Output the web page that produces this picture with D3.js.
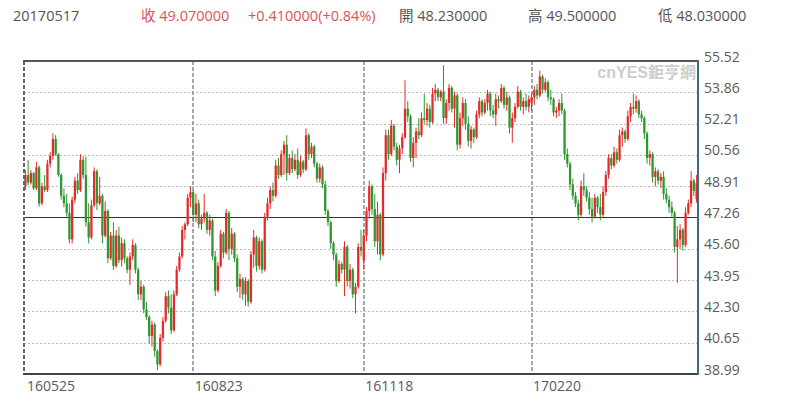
<!DOCTYPE html>
<html><head><meta charset="utf-8">
<script src="https://cdn.jsdelivr.net/npm/d3@7"></script>
<style>
body{margin:0;background:#fff;}
svg{display:block;font-family:"Open Sans","Noto Sans CJK TC",sans-serif;}
</style>
</head><body>
<svg id="c" width="800" height="406"></svg>
<script>
// ---- data ----
const openP = [
48.9,49.5,49.1,49.6,48.8,49.9,48.0,48.9,48.7,50.1,
50.5,51.4,50.6,49.5,48.4,48.0,47.5,46.1,48.2,49.2,
48.7,50.3,49.5,47.0,46.2,47.9,49.7,48.0,48.4,46.3,
47.6,45.1,46.3,44.7,46.3,45.0,45.9,45.1,44.5,45.2,
45.8,44.5,43.2,43.6,42.4,42.0,41.0,41.6,40.2,39.5,
40.9,41.8,43.1,42.5,41.3,43.2,44.5,45.2,46.6,46.9,
48.3,48.6,47.4,48.0,46.9,47.2,47.5,46.6,47.1,45.2,
43.4,44.7,46.4,45.4,47.5,45.6,46.4,45.1,43.6,44.0,
43.2,43.9,42.8,45.3,46.2,44.7,46.0,44.5,47.3,48.0,
48.7,48.4,50.0,49.5,50.6,51.1,49.6,50.4,49.8,50.3,
49.5,50.2,49.8,51.6,50.6,51.0,50.1,49.3,49.9,49.0,
47.6,47.0,45.9,45.3,43.9,44.8,44.5,45.7,43.9,44.5,
43.2,43.6,45.7,45.0,46.3,47.6,48.9,47.7,46.0,47.4,
45.3,49.6,51.6,50.6,52.1,51.0,50.3,50.9,51.5,53.0,
52.6,50.4,51.2,51.8,51.6,52.5,52.4,53.0,52.3,53.8,
54.0,53.6,53.9,52.5,53.3,54.1,53.0,53.7,51.1,52.5,
53.3,52.2,51.3,51.9,51.5,52.7,53.4,52.8,53.3,53.8,
52.9,52.7,53.5,53.4,54.1,53.2,53.6,52.0,52.5,53.1,
53.9,53.1,53.4,53.1,53.3,53.6,54.0,53.7,54.7,54.0,
54.4,53.6,53.5,52.8,52.9,53.3,52.9,50.6,50.1,49.0,
48.4,48.0,47.4,48.9,48.7,48.3,47.7,47.3,48.3,47.8,
47.4,48.6,49.5,50.4,50.0,50.7,50.3,51.6,51.8,51.4,
52.6,53.1,53.0,53.4,52.7,52.5,51.7,50.4,50.6,49.4,
49.7,49.2,49.4,48.5,48.2,47.8,47.5,45.7,46.1,46.6,
45.8,47.5,48.0,49.2,48.23];
const highP = [
49.76,50.29,49.76,49.65,50.2,50.0,49.1,49.5,50.3,50.7,
51.7,51.61,50.65,49.6,48.8,48.5,48.0,48.36,49.4,49.6,
50.6,50.5,50.47,48.0,48.2,49.9,49.8,49.4,48.5,48.1,
47.7,46.5,47.0,46.6,46.77,46.2,46.1,45.2,45.4,46.1,
45.9,44.6,43.9,43.7,42.8,42.1,41.8,41.7,40.3,41.1,
42.0,43.3,43.4,43.2,43.4,44.7,45.4,46.8,47.0,48.5,
48.9,48.7,48.5,48.2,47.4,48.5,47.6,47.4,47.2,45.5,
44.9,46.6,46.5,47.7,47.6,46.7,46.5,45.3,44.3,44.1,
44.1,44.0,45.5,46.6,46.3,46.2,46.1,47.5,48.3,48.9,
49.1,50.3,50.4,50.8,51.3,51.6,50.6,50.8,50.6,50.9,
50.5,50.3,51.96,51.7,51.2,51.1,50.2,50.1,50.0,49.2,
47.7,47.1,46.0,45.4,45.0,44.9,46.0,45.8,44.8,44.6,
43.8,45.9,46.6,46.6,47.8,49.2,49.0,48.5,48.1,47.5,
49.9,51.9,51.9,52.4,52.2,51.2,51.1,51.7,54.5,53.4,
52.7,51.5,52.0,52.5,52.8,53.8,53.3,53.2,54.1,54.3,
54.1,54.0,55.3,53.5,54.3,54.2,53.9,53.8,52.8,53.6,
53.5,52.6,52.1,52.0,52.9,53.6,53.5,53.5,54.0,53.9,
53.2,53.8,53.7,54.3,54.2,53.9,53.7,52.8,53.3,54.2,
54.0,53.6,53.8,53.7,53.8,54.2,54.3,55.0,54.8,54.6,
54.5,54.0,53.6,53.1,53.5,53.8,53.0,50.9,50.2,49.3,
48.6,48.2,49.2,49.6,48.9,48.6,48.3,48.5,48.4,48.5,
48.9,49.7,50.6,50.6,51.0,50.9,51.9,52.0,51.9,52.9,
53.3,53.8,53.7,53.5,52.9,52.6,51.8,50.8,50.7,49.9,
49.8,49.6,49.7,48.8,48.4,48.1,47.6,46.8,46.9,46.7,
47.8,48.2,49.7,49.3,49.5];
const lowP = [
48.71,48.97,49.0,48.71,48.7,47.83,47.9,48.6,48.6,49.9,
50.3,50.5,49.4,48.2,47.8,47.3,45.89,45.89,48.0,48.5,
48.6,49.3,46.77,45.89,46.1,47.8,47.65,47.9,45.9,46.2,
44.84,45.0,44.49,44.6,44.84,44.66,44.84,44.31,43.7,45.0,
44.3,42.9,42.9,42.2,41.85,40.6,40.44,39.9,39.2,39.4,
40.7,41.7,42.2,41.1,41.2,43.1,44.4,45.1,46.1,46.8,
47.8,47.0,47.0,46.7,46.6,47.0,46.4,46.3,45.0,43.1,
43.3,44.6,45.1,45.3,45.0,45.3,44.9,43.3,43.0,42.9,
42.6,42.55,42.7,44.6,44.4,44.5,44.3,44.4,47.1,47.7,
48.1,48.3,49.3,49.4,49.5,49.2,49.5,49.6,49.7,49.3,
49.4,49.6,49.7,50.3,50.4,49.9,49.1,49.1,48.8,47.4,
46.8,45.6,45.0,43.6,43.8,44.3,43.1,43.6,43.5,43.0,
42.2,43.5,45.2,44.5,46.0,47.2,47.4,45.7,45.3,45.0,
45.2,49.2,50.3,50.5,50.8,50.0,49.6,50.6,51.4,52.3,
50.2,49.9,50.4,51.4,51.5,52.2,52.1,52.0,52.2,53.4,
53.4,53.4,52.2,52.2,52.9,52.8,52.0,50.8,50.9,52.1,
51.9,51.0,50.9,51.2,51.4,52.5,52.6,52.7,52.9,52.6,
52.5,52.1,53.0,53.3,53.0,52.9,51.7,51.2,52.3,53.0,
52.9,52.7,52.9,52.8,52.9,53.2,53.5,53.6,53.8,53.9,
53.4,53.2,52.6,52.5,52.6,52.7,50.3,49.9,48.7,48.2,
47.8,47.1,47.3,48.4,48.1,47.4,47.0,47.2,47.5,47.1,
47.3,48.4,49.3,49.8,49.9,50.1,50.2,51.0,51.2,51.3,
52.3,52.7,52.8,52.5,52.3,51.4,50.1,50.0,49.1,48.9,
49.0,48.8,48.2,48.0,47.5,47.3,45.4,43.8,45.6,45.5,
45.7,47.4,47.8,48.4,48.03];
const closeP = [
49.5,49.1,49.6,48.8,49.9,48.0,48.9,48.7,50.1,50.5,
51.4,50.6,49.5,48.4,48.0,47.5,46.1,48.2,49.2,48.7,
50.3,49.5,47.0,46.2,47.9,49.7,48.0,48.4,46.3,47.6,
45.1,46.3,44.7,46.3,45.0,45.9,45.1,44.5,45.2,45.8,
44.5,43.2,43.6,42.4,42.0,41.0,41.6,40.2,39.5,40.9,
41.8,43.1,42.5,41.3,43.2,44.5,45.2,46.6,46.9,48.3,
48.6,47.4,48.0,46.9,47.2,47.5,46.6,47.1,45.2,43.4,
44.7,46.4,45.4,47.5,45.6,46.4,45.1,43.6,44.0,43.2,
43.9,42.8,45.3,46.2,44.7,46.0,44.5,47.3,48.0,48.7,
48.4,50.0,49.5,50.6,51.1,49.6,50.4,49.8,50.3,49.5,
50.2,49.8,51.6,50.6,51.0,50.1,49.3,49.9,49.0,47.6,
47.0,45.9,45.3,43.9,44.8,44.5,45.7,43.9,44.5,43.2,
43.6,45.7,45.5,46.3,47.6,48.9,47.7,46.0,47.4,45.3,
49.6,51.6,50.6,52.1,51.0,50.3,50.9,51.5,53.0,52.6,
50.4,51.2,51.8,51.6,52.5,52.4,53.0,52.3,53.8,54.0,
53.6,53.9,52.5,53.3,54.1,53.0,53.7,51.1,52.5,53.3,
52.2,51.3,51.9,51.5,52.7,53.4,52.8,53.3,53.8,52.9,
52.7,53.5,53.4,54.1,53.2,53.6,52.0,52.5,53.1,53.9,
53.1,53.4,53.1,53.5,53.6,54.0,53.7,54.7,54.0,54.4,
53.6,53.5,52.8,52.9,53.3,52.9,50.6,50.1,49.0,48.4,
48.0,47.4,48.9,48.7,48.3,47.7,47.3,48.3,47.8,47.4,
48.6,49.5,50.4,50.0,50.7,50.3,51.6,51.8,51.4,52.6,
53.1,53.0,53.4,52.7,52.5,51.7,50.4,50.6,49.4,49.7,
49.2,49.4,48.5,48.2,47.8,47.5,45.7,46.1,46.6,45.8,
47.5,48.0,49.2,48.66,49.07];

const yTicks = [55.52,53.86,52.21,50.56,48.91,47.26,45.60,43.95,42.30,40.65,38.99];
const refLine = 47.26;
const tickIdx = [0,61,123,184];
const tickLabels = ["160525","160823","161118","170220"];
const headerLeft = ["20170517"];
const headerRed = ["收 49.070000","+0.410000(+0.84%)"];
const headerGray = ["開 48.230000","高 49.500000","低 48.030000"];
const watermark = "cnYES鉅亨網";

// ---- layout ----
const L = 24, R = 698, T = 61, B = 374;
const UP = "#e62a2a", DOWN = "#2e962e";
const svg = d3.select("#c");
const N = closeP.length;
const data = d3.range(N).map(i => ({i, o: openP[i], h: highP[i], l: lowP[i], c: closeP[i]}));

const x = d3.scaleBand().domain(d3.range(N)).range([L, R]).paddingInner(0.18).paddingOuter(0.1);
const xc = i => x(i) + x.bandwidth() / 2;
const y = d3.scaleLinear().domain([38.99, 55.52]).range([B, T]);

// gridlines
svg.append("g").selectAll("line").data(yTicks.filter(v => v !== yTicks[0] && v !== yTicks[yTicks.length-1] && v !== refLine))
  .join("line")
  .attr("x1", L).attr("x2", R)
  .attr("y1", d => Math.round(y(d)) + 0.5).attr("y2", d => Math.round(y(d)) + 0.5)
  .attr("stroke", "#bcbcbc").attr("stroke-width", 1).attr("stroke-dasharray", "2,2");

// vertical dashed
svg.append("g").selectAll("line").data(tickIdx.slice(1))
  .join("line")
  .attr("x1", d => Math.round(xc(d))).attr("x2", d => Math.round(xc(d)))
  .attr("y1", T).attr("y2", B)
  .attr("stroke", "#8a8a8a").attr("stroke-width", 1.5).attr("stroke-dasharray", "4,2");

// reference line
svg.append("line").attr("x1", L).attr("x2", R)
  .attr("y1", Math.round(y(refLine)) + 0.5).attr("y2", Math.round(y(refLine)) + 0.5)
  .attr("stroke", "#333").attr("stroke-width", 1);

// watermark
svg.append("text").attr("x", 696).attr("y", 78).attr("text-anchor", "end")
  .attr("font-size", 16).attr("font-weight", "bold").attr("fill", "#cdcdcd")
  .attr("font-family", "Arial, 'Liberation Sans', 'Noto Sans CJK TC', sans-serif")
  .text(watermark);

// candles
const g = svg.append("g");
const col = d => d.c > d.o ? UP : (d.c < d.o ? DOWN : "#777");
g.selectAll("line.w").data(data).join("line").attr("class", "w")
  .attr("x1", d => xc(d.i)).attr("x2", d => xc(d.i))
  .attr("y1", d => y(d.h)).attr("y2", d => y(d.l))
  .attr("stroke", col).attr("stroke-width", 1);
g.selectAll("rect").data(data).join("rect")
  .attr("x", d => x(d.i)).attr("width", x.bandwidth())
  .attr("y", d => y(Math.max(d.o, d.c)))
  .attr("height", d => Math.max(1, Math.abs(y(d.o) - y(d.c))))
  .attr("fill", col);

// frame
svg.append("line").attr("x1", L).attr("x2", L).attr("y1", T).attr("y2", B)
  .attr("stroke", "#666").attr("stroke-width", 2).attr("stroke-dasharray", "4,2");
svg.append("line").attr("x1", L - 1).attr("x2", R).attr("y1", T).attr("y2", T)
  .attr("stroke", "#555").attr("stroke-width", 2);
svg.append("line").attr("x1", L - 1).attr("x2", R + 1).attr("y1", B).attr("y2", B)
  .attr("stroke", "#444").attr("stroke-width", 2);
svg.append("line").attr("x1", R).attr("x2", R).attr("y1", T - 1).attr("y2", B + 1)
  .attr("stroke", "#3d6a85").attr("stroke-width", 2);

// y axis (right)
const ya = svg.append("g").attr("transform", `translate(${R + 2},0)`)
  .call(d3.axisRight(y).tickValues(yTicks).tickSize(0).tickPadding(4).tickFormat(d3.format(".2f")));
ya.select(".domain").remove();
ya.selectAll("text").attr("dy", "0").attr("fill", "#5a5a5a").attr("font-size", 14)
  .attr("font-family", "'Open Sans', sans-serif");

// x axis
const xa = svg.append("g").attr("transform", `translate(0,${B})`)
  .call(d3.axisBottom(x).tickValues(tickIdx).tickSize(0).tickPadding(0).tickFormat((d, k) => tickLabels[k]));
xa.select(".domain").remove();
xa.selectAll("text").attr("text-anchor", "start").attr("x", 1.5).attr("y", 17).attr("dy", "0")
  .attr("fill", "#5a5a5a").attr("font-size", 14).attr("font-family", "'Open Sans', sans-serif");

// header
const hy = 20.5;
svg.append("text").attr("x", 13).attr("y", hy).attr("font-size", 14.5).attr("fill", "#555").text(headerLeft[0]);
svg.selectAll("text.hr").data(headerRed).join("text").attr("class", "hr")
  .attr("x", (d, k) => [141, 248][k]).attr("y", hy).attr("font-size", 14.5).attr("fill", "#dc5456").text(d => d);
svg.selectAll("text.hg").data(headerGray).join("text").attr("class", "hg")
  .attr("x", (d, k) => [399, 528, 658][k]).attr("y", hy).attr("font-size", 14.5).attr("fill", "#555").text(d => d);
</script>
</body></html>
